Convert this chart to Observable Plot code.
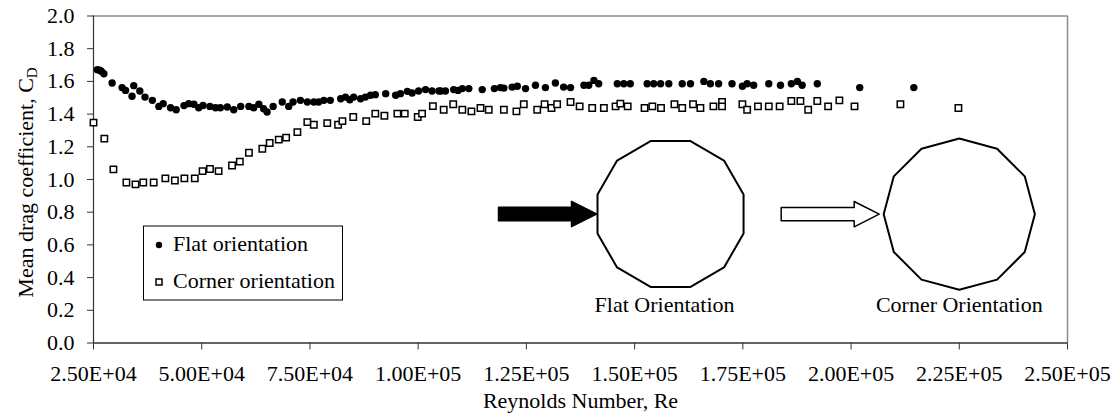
<!DOCTYPE html>
<html><head><meta charset="utf-8">
<script src="https://cdn.jsdelivr.net/npm/d3@7"></script>
<script src="https://cdn.jsdelivr.net/npm/@observablehq/plot@0.6"></script>
<style>
body{margin:0;background:#fff}
#chart{position:relative;width:1116px;height:419px}
</style>
</head><body><div id="chart"></div>
<script>
// ---- data ----
const flatRe = [25900,26400,26800,27400,29300,31600,32400,33900,34300,35700,
36900,38600,40100,41100,42800,44100,45900,47000,48200,49300,
50300,51900,53200,54300,55900,57400,59000,60900,62000,63200,
64300,65100,66500,68600,70100,71100,72800,74400,75900,77000,
78200,79700,82100,83200,84200,85100,86700,87800,89000,90100,
92500,94800,95900,97500,98600,100100,101700,103200,104800,105200,
106300,108200,109200,110200,111700,114800,117600,119000,119800,121700,
122900,124800,127100,129400,131700,133600,135200,138300,139400,140600,
141700,146000,147500,149000,152900,154400,156000,157900,161000,162900,
166000,167500,169400,172500,174900,176000,177500,181000,183700,186200,
187600,188700,192200,202000,214500];
const flatCd = [1.672,1.668,1.662,1.647,1.590,1.562,1.545,1.509,1.574,1.541,
1.504,1.484,1.447,1.464,1.439,1.427,1.452,1.464,1.460,1.439,
1.453,1.447,1.439,1.439,1.443,1.427,1.447,1.447,1.439,1.460,
1.433,1.413,1.447,1.474,1.447,1.474,1.484,1.474,1.474,1.474,
1.484,1.484,1.494,1.504,1.488,1.504,1.494,1.504,1.515,1.519,
1.525,1.515,1.525,1.539,1.529,1.541,1.550,1.541,1.541,1.541,
1.541,1.550,1.545,1.556,1.556,1.550,1.556,1.562,1.559,1.565,
1.570,1.556,1.576,1.562,1.590,1.565,1.562,1.576,1.576,1.606,
1.586,1.586,1.586,1.586,1.586,1.586,1.586,1.586,1.586,1.586,
1.600,1.586,1.586,1.586,1.570,1.586,1.576,1.586,1.576,1.586,
1.600,1.576,1.586,1.562,1.562];
const cornerRe = [25000,27500,29600,32600,34700,36500,38900,41600,43800,46000,
48400,50200,51900,53900,57000,58800,60900,64000,65700,67800,
69500,72100,74400,75900,79000,81500,82500,85000,88000,90100,
92200,95200,96900,99900,100900,103400,105900,108100,110200,112300,
114400,116300,119800,122700,124400,127500,129200,130800,132100,135200,
137300,140200,142900,145600,146700,148400,152300,154100,156100,159200,
161000,163500,165200,168200,170200,170200,174900,176000,178500,181000,
183500,186200,188300,190100,192200,194700,197300,200800,211400,224800];
const cornerCd = [1.348,1.250,1.062,0.982,0.970,0.982,0.982,1.007,0.994,1.007,
1.007,1.051,1.064,1.051,1.086,1.109,1.164,1.188,1.223,1.244,
1.256,1.290,1.351,1.335,1.345,1.335,1.357,1.382,1.357,1.403,
1.390,1.403,1.403,1.382,1.403,1.449,1.427,1.460,1.427,1.417,
1.437,1.427,1.427,1.417,1.460,1.427,1.460,1.437,1.460,1.474,
1.447,1.437,1.437,1.447,1.464,1.447,1.437,1.447,1.437,1.460,
1.437,1.460,1.437,1.447,1.474,1.447,1.460,1.427,1.447,1.447,
1.447,1.480,1.480,1.427,1.480,1.447,1.484,1.447,1.460,1.437];
const xTicks = [25000,50000,75000,100000,125000,150000,175000,200000,225000,250000];
const yTicks = [0,0.2,0.4,0.6,0.8,1.0,1.2,1.4,1.6,1.8,2.0];
const seriesNames = ["Flat orientation","Corner orientation"];
const diagramLabels = ["Flat Orientation","Corner Orientation"];
const xTitle = "Reynolds Number, Re";
const yTitle = "Mean drag coefficient, C";
const yTitleSub = "D";

// ---- layout ----
const W = 1116, H = 419;
const M = {left:93, right:49, top:15.5, bottom:76.5};
const xDom = [25000, 250000], yDom = [0, 2];
const FONT = "'Liberation Serif','Times New Roman',serif";
const kx = (xDom[1]-xDom[0])/(W-M.left-M.right);   // data units per px
const ky = (yDom[1]-yDom[0])/(H-M.top-M.bottom);

const flat = flatRe.map((x,i)=>({x, y:flatCd[i]}));
const corner = cornerRe.map((x,i)=>({x, y:cornerCd[i]}));

const fmtE = d => {
  const e = Math.floor(Math.log10(d));
  return (d/10**e).toFixed(2) + "E+" + String(e).padStart(2,"0");
};

// diagram geometry (in px offsets, converted to data units)
const R = 75.6;
const centers = [{x:158300, y:0.789, rot:15, gap:1}, {x:225000, y:0.788, rot:0, gap:4.5}];
function polygon(c){
  const pts = [];
  for (let k=0;k<=12;k++){
    const a = (c.rot + 30*k)*Math.PI/180;
    pts.push({x:c.x + R*Math.cos(a)*kx, y:c.y + R*Math.sin(a)*ky});
  }
  return pts;
}
function arrow(c){
  const leftPx = c.rot ? R*Math.cos(15*Math.PI/180) : R;
  const tx = -leftPx - c.gap;
  const rel = [[0,0],[-25,12.7],[-25,6.7],[-98,6.7],[-98,-6.7],[-25,-6.7],[-25,-12.7],[0,0]];
  return rel.map(([dx,dy])=>({x:c.x+(tx+dx)*kx, y:c.y+dy*ky}));
}

const plot = Plot.plot({
  width:W, height:H,
  marginLeft:M.left, marginRight:M.right, marginTop:M.top, marginBottom:M.bottom,
  x:{domain:xDom}, y:{domain:yDom},
  style:{fontFamily:FONT, fontSize:"22px", background:"white", color:"black"},
  marks:[
    Plot.ruleY([yDom[1]], {stroke:"#8c8c8c", strokeWidth:1.5}),
    Plot.ruleX([xDom[1]], {stroke:"#8c8c8c", strokeWidth:1.5}),
    Plot.axisX({ticks:xTicks, tickFormat:fmtE, tickSize:7, tickPadding:15, label:null, stroke:"#333", fontSize:22}),
    Plot.axisY({ticks:yTicks, tickFormat:d3.format(".1f"), tickSize:6, tickPadding:13, label:null, stroke:"#333", fontSize:22}),
    Plot.ruleY([yDom[0]], {stroke:"#333", strokeWidth:1.5}),
    Plot.ruleX([xDom[0]], {stroke:"#333", strokeWidth:1.2}),
    Plot.text([xTitle], {frameAnchor:"bottom", lineAnchor:"middle", dy:57.5, fontSize:22}),
    // diagrams
    ...centers.map(c => Plot.line(polygon(c), {x:"x", y:"y", stroke:"black", strokeWidth:2, fill:"white"})),
    Plot.line(arrow(centers[0]), {x:"x", y:"y", stroke:"black", strokeWidth:1.5, fill:"black"}),
    Plot.line(arrow(centers[1]), {x:"x", y:"y", stroke:"black", strokeWidth:1.5, fill:"white"}),
    Plot.text(diagramLabels.map((t,i)=>({t, x:centers[i].x - (i===0?6*kx:0), y:0.23})), {x:"x", y:"y", text:"t", fontSize:22, lineAnchor:"middle"}),
    // data
    Plot.dot(flat, {x:"x", y:"y", r:3.7, fill:"black", stroke:"none"}),
    Plot.dot(corner, {x:"x", y:"y", symbol:"square", r:3.6, fill:"white", stroke:"black", strokeWidth:1.5}),
  ]
});
document.getElementById("chart").appendChild(plot);

// y-axis title with subscript
const svg = d3.select(plot);
const yt = svg.append("text")
  .attr("transform","translate(33,182.5) rotate(-90)")
  .attr("text-anchor","middle")
  .attr("font-family",FONT).attr("font-size",22).attr("fill","black");
yt.append("tspan").text(yTitle);
yt.append("tspan").attr("font-size",15).attr("dy",4).text(yTitleSub);

// legend
const lg = svg.append("g").attr("font-family",FONT).attr("font-size",22).attr("text-anchor","start");
lg.append("rect").attr("x",143.5).attr("y",226).attr("width",199).attr("height",74)
  .attr("fill","white").attr("stroke","black").attr("stroke-width",1);
lg.append("circle").attr("cx",159).attr("cy",245).attr("r",3.2).attr("fill","black");
lg.append("rect").attr("x",156).attr("y",279).attr("width",6).attr("height",6)
  .attr("fill","white").attr("stroke","black").attr("stroke-width",1.5);
seriesNames.forEach((s,i)=>{
  lg.append("text").attr("x",173).attr("y",251+i*37).attr("text-anchor","start").attr("fill","black").text(s);
});
</script>
</body></html>
